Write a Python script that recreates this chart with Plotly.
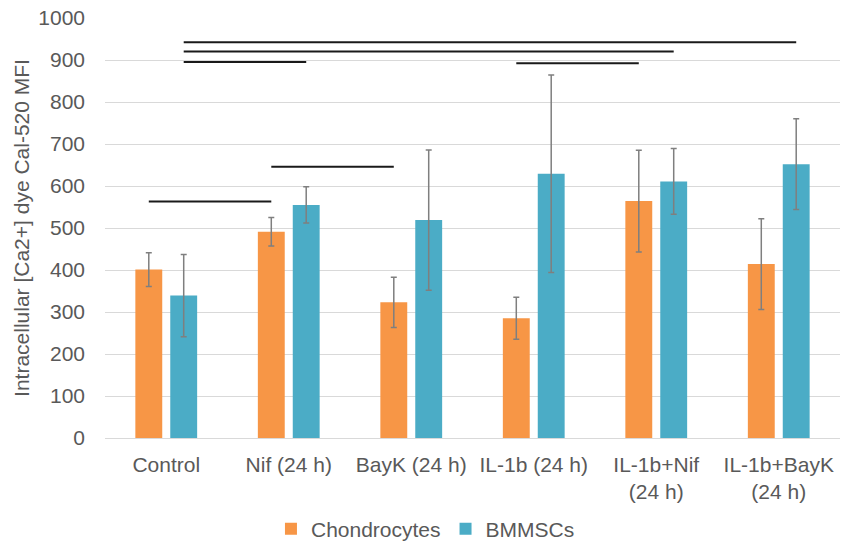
import plotly.graph_objects as go

categories = ["Control", "Nif (24 h)", "BayK (24 h)", "IL-1b (24 h)",
              "IL-1b+Nif<br>(24 h)", "IL-1b+BayK<br>(24 h)"]
series_names = ["Chondrocytes", "BMMSCs"]
chondro_vals = [401, 491, 323, 285, 564, 414]
chondro_err = [40, 34, 60, 50, 121, 108]
bmmsc_vals = [339, 555, 519, 629, 611, 652]
bmmsc_err = [98, 43, 167, 235, 78, 108]

# significance comparisons: (category a, series a, category b, series b, y level)
comparisons = [
    (0, 0, 1, 0, 563),
    (1, 0, 2, 0, 646),
    (0, 1, 1, 1, 895),
    (3, 0, 4, 0, 892),
    (0, 1, 4, 1, 920),
    (0, 1, 5, 1, 942),
]
y_ticks = list(range(0, 1001, 100))

colors = ["#F79646", "#4BACC6"]
FONT = "Arial, Liberation Sans, sans-serif"
TXT = "#595959"
bargap = 0.43
bargroupgap = 0.23

fig = go.Figure()
for name, vals, errs, col in zip(series_names, [chondro_vals, bmmsc_vals],
                                 [chondro_err, bmmsc_err], colors):
    fig.add_trace(go.Bar(
        x=categories, y=vals, name=name, marker=dict(color=col, line=dict(width=0)),
        error_y=dict(type="data", array=errs, visible=True, color="#7F7F7F",
                     thickness=1.5, width=3),
    ))

off = (1 - bargap) / 4
for ca, sa, cb, sb, yv in comparisons:
    xa = ca + (-off if sa == 0 else off)
    xb = cb + (-off if sb == 0 else off)
    fig.add_shape(type="line", xref="x", yref="y", x0=xa, x1=xb, y0=yv, y1=yv,
                  line=dict(color="#1a1a1a", width=2))

fig.update_layout(
    width=841, height=541,
    margin=dict(l=105, r=1, t=18, b=103, autoexpand=False),
    paper_bgcolor="white", plot_bgcolor="white",
    barmode="group", bargap=bargap, bargroupgap=bargroupgap,
    font=dict(family=FONT, color=TXT, size=21),
    showlegend=True,
    legend=dict(orientation="h", x=0.436, xanchor="center", y=-0.217, yanchor="middle",
                font=dict(size=21, color=TXT), itemwidth=30, traceorder="normal"),
)
fig.update_yaxes(range=[0, 1000], tickvals=y_ticks, showgrid=True, gridcolor="#D9D9D9",
                 gridwidth=1, zeroline=True, zerolinecolor="#D9D9D9", zerolinewidth=1,
                 showline=False, ticks="", ticklabelstandoff=19, automargin=False,
                 tickfont=dict(size=21, color=TXT),
                 title=dict(text="Intracellular [Ca2+] dye Cal-520 MFI",
                            font=dict(size=21, color=TXT), standoff=2))
fig.update_xaxes(showgrid=False, showline=False, ticks="", ticklabelstandoff=12,
                 automargin=False, tickfont=dict(size=21, color=TXT), tickangle=0)

fig.write_html("out.html", config={"displayModeBar": False},
               post_script="document.body.style.margin='0';document.body.style.overflow='hidden';")
